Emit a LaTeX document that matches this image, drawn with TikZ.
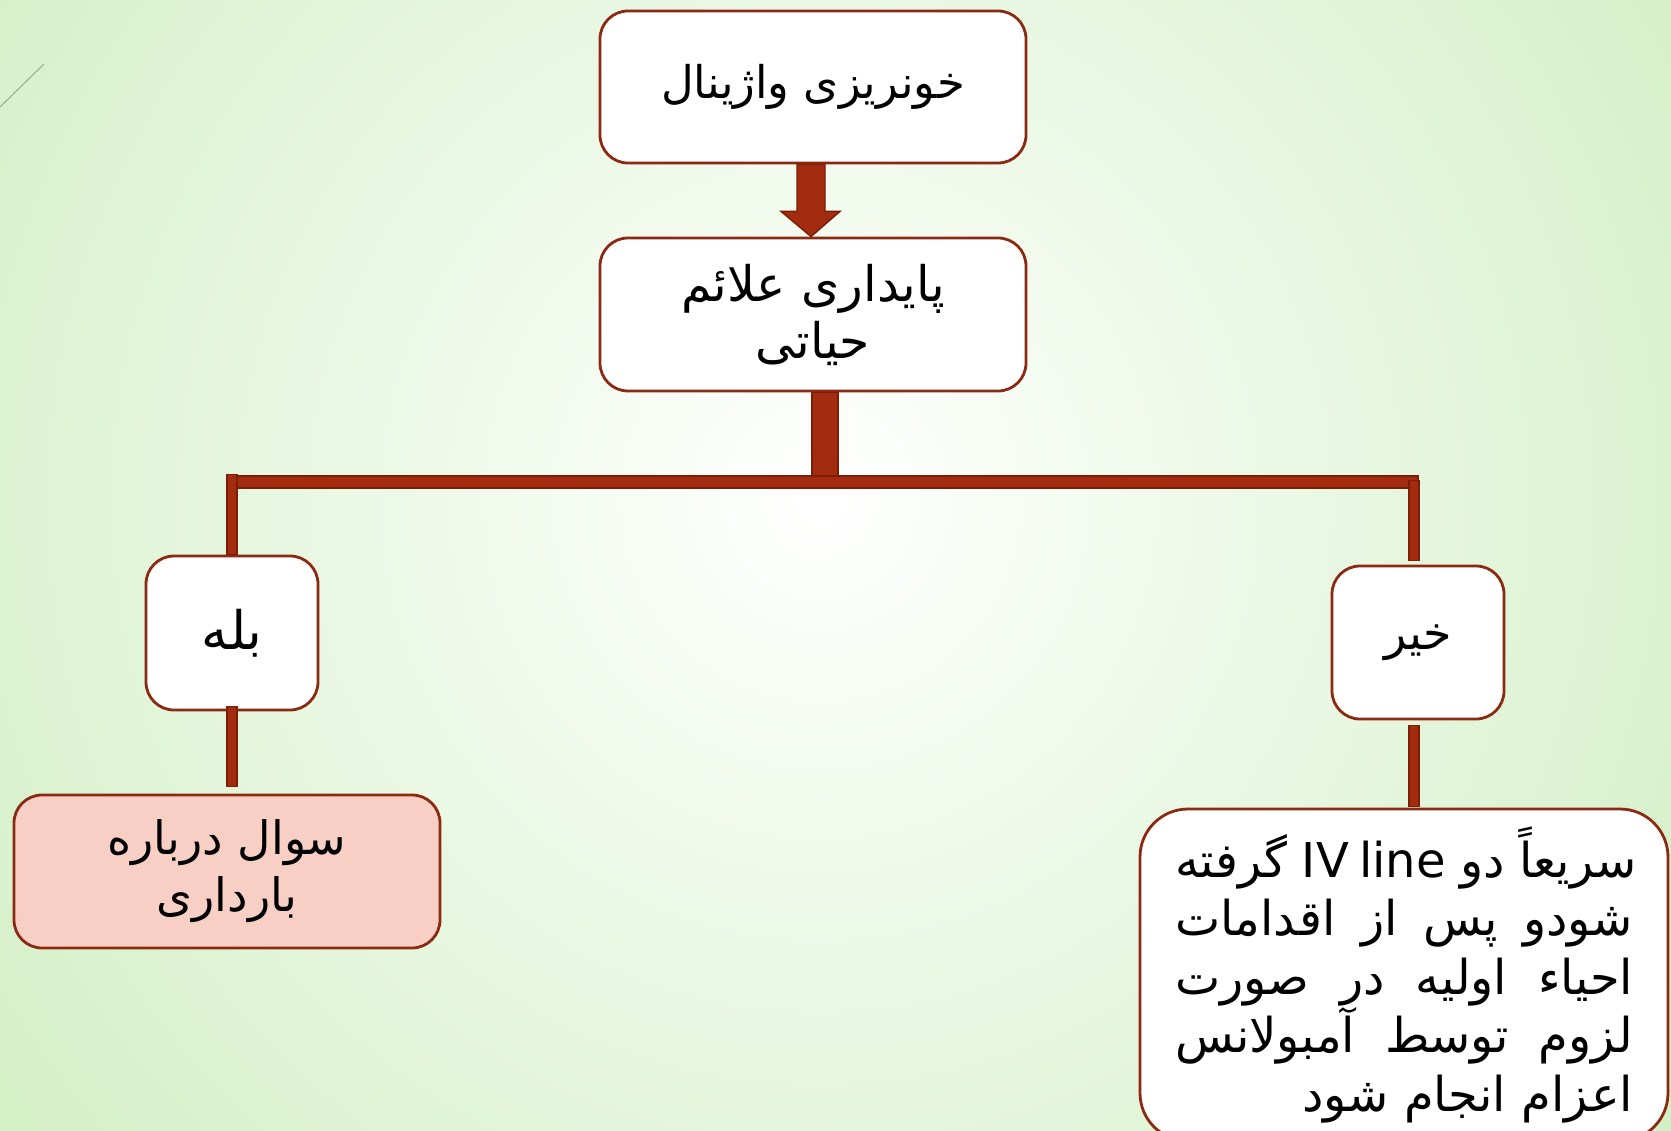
\documentclass[tikz,border=0pt]{standalone}
\usepackage{fontspec}
\usetikzlibrary{calc}
\TeXXeTstate=1
\newfontfamily\arabicfont[Script=Arabic]{DejaVu Sans}
\definecolor{bgg}{HTML}{BDE8A9}
\definecolor{brd}{HTML}{8B2A12}
\definecolor{cfill}{HTML}{A32B0F}
\definecolor{cdark}{HTML}{7A1E08}
\definecolor{pinkfill}{HTML}{F8CFC4}
\definecolor{decoline}{HTML}{A3B89A}
\begin{document}
\begin{tikzpicture}[x=1pt,y=-1pt,
  box/.style={draw=brd, line width=2.8pt, fill=white, rounded corners=28pt,
    inner sep=0pt, align=center, font=\arabicfont\fontsize{45}{56}\selectfont},
  conn/.style={fill=cfill, draw=cdark, line width=1.4pt},
  fatarrow/.style={fill=cfill, draw=cdark, line width=1.4pt, line join=miter}]
\useasboundingbox (0,0) rectangle (1671,1131);
\begin{scope}
\clip (0,0) rectangle (1671,1131);
\fill[bgg] (0,0) rectangle (1671,1131);
\shade[inner color=white, outer color=bgg] (820,500) circle (1550);
\draw[decoline, line width=1.3pt] (0,107) -- (44,64);

% nodes
\node[box, minimum width=426pt, minimum height=152pt] (top) at (813,87)
  {\beginR خونریزی واژینال\endR};
\node[box, minimum width=426pt, minimum height=153pt,
  font=\arabicfont\fontsize{49}{57}\selectfont] (vital) at (813,314.5)
  {\beginR پایداری علائم\endR\\\beginR حیاتی\endR};
\node[box, minimum width=172pt, minimum height=154pt,
  font=\arabicfont\fontsize{53}{60}\selectfont] (bale) at (232,633)
  {\beginR بله\endR};
\node[box, minimum width=172pt, minimum height=153pt,
  font=\arabicfont\fontsize{46}{56}\selectfont] (kheir) at (1418,642.5)
  {\beginR خیر\endR};
\node[box, fill=pinkfill, minimum width=426pt, minimum height=153pt,
  font=\arabicfont\fontsize{46}{57}\selectfont] (soal) at (227,871.5)
  {\beginR سوال درباره\endR\\\beginR بارداری\endR};
\node[box, rounded corners=48pt, minimum width=528pt, minimum height=332pt] (big) at (1404,975)
  {\parbox{458pt}{\arabicfont\fontsize{48}{58.6}\selectfont
   \hbox to\hsize{\beginR سریعاً\hskip.3em plus1fill دو\hskip.3em plus1fill\beginL IV line\endL\hskip.3em plus1fill گرفته\endR}
   \hbox to\hsize{\beginR شودو\hskip.3em plus1fill پس\hskip.3em plus1fill از\hskip.3em plus1fill اقدامات\endR}
   \hbox to\hsize{\beginR احیاء\hskip.3em plus1fill اولیه\hskip.3em plus1fill در\hskip.3em plus1fill صورت\endR}
   \hbox to\hsize{\beginR لزوم\hskip.3em plus1fill توسط\hskip.3em plus1fill آمبولانس\endR}
   \hbox to\hsize{\hfill\beginR اعزام انجام شود\endR}}};

% connectors
\draw[fatarrow] ($(top.south)+(-16,0)$) -- ($(top.south)+(12,0)$) -- ($(top.south)+(12,47)$)
  -- ($(top.south)+(27,47)$) -- (vital.north -| 811,0) -- ($(top.south)+(-32,47)$)
  -- ($(top.south)+(-16,47)$) -- cycle;
\coordinate (barL) at (227,476);
\coordinate (barR) at (1418,488);
\path[conn] ($(vital.south)+(-1,0)$) rectangle ($(vital.south)+(25,87)$);
\path[conn] (barL) rectangle (barR);
\path[conn] ($(bale.north)+(-5,-80)$) rectangle ($(bale.north)+(5,0)$);
\path[conn] ($(bale.south)+(-5,-5)$) rectangle ($(bale.south)+(5,75)$);
\path[conn] ($(kheir.north)+(-9,-84)$) rectangle ($(kheir.north)+(1,-4)$);
\path[conn] ($(kheir.south)+(-9,5)$) rectangle ($(kheir.south)+(1,86)$);
\end{scope}
\end{tikzpicture}
\end{document}
